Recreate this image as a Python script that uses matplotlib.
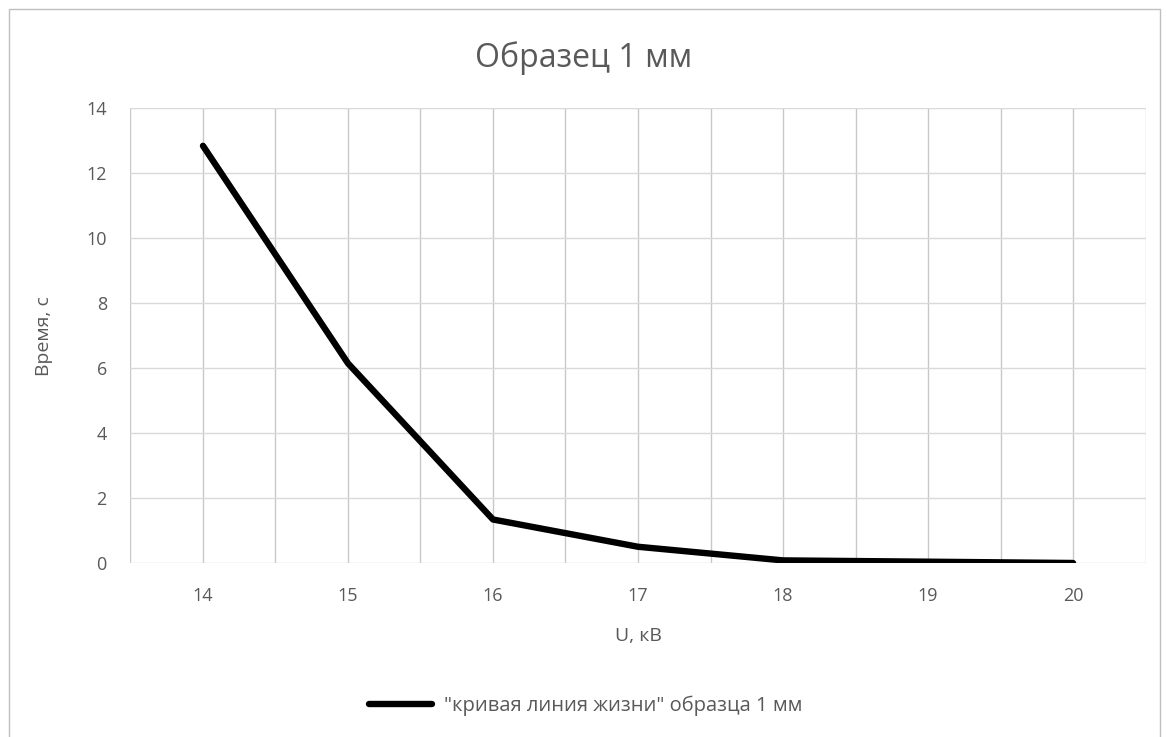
import matplotlib
matplotlib.use("Agg")
import matplotlib.pyplot as plt
from matplotlib.patches import Rectangle

# Data
voltage = ["14", "15", "16", "17", "18", "19", "20"]
time_s = [12.85, 6.15, 1.34, 0.5, 0.08, 0.04, 0.0]
y_ticks = [0, 2, 4, 6, 8, 10, 12, 14]

plt.rcParams['font.family'] = ['Open Sans', 'DejaVu Sans']
text_col = "#595959"

fig = plt.figure(figsize=(11.67, 7.37), dpi=100)
ax = fig.add_axes([0.1118, 0.2361, 0.8698, 0.6167])

x = list(range(len(voltage)))
ax.plot(x, time_s, color="black", linewidth=4.6, solid_capstyle="round",
        solid_joinstyle="round", label='"кривая линия жизни" образца 1 мм')

ax.set_xlim(-0.5, len(voltage) - 0.5)
ax.set_ylim(0, 14)
ax.set_xticks(x)
ax.set_xticklabels(voltage)
ax.set_yticks(y_ticks)

# vertical grid at every half category, like Excel
for gx in [i * 0.5 - 0.5 for i in range(2 * len(voltage) + 1)]:
    ax.axvline(gx, color="#C8C8C8", linewidth=1.0, zorder=0)
for gy in y_ticks:
    ax.axhline(gy, color="#D9D9D9", linewidth=1.0, zorder=0)

for s in ax.spines.values():
    s.set_visible(False)
ax.tick_params(length=0, labelsize=13, colors=text_col, pad=17)
ax.tick_params(axis="y", pad=17)

ax.set_xlabel("U, кВ", fontsize=14, color=text_col, labelpad=16)
ax.set_ylabel("Время, с", fontsize=14, color=text_col, labelpad=24)
fig.text(0.5, 0.921, "Образец 1 мм", ha="center", va="center",
         fontsize=23, color=text_col)

leg = fig.legend(loc="center", bbox_to_anchor=(0.502, 0.042), frameon=False,
                 fontsize=14.5, handlelength=3.1, handletextpad=0.6)
for t in leg.get_texts():
    t.set_color(text_col)

# chart area border
fig.patches.append(Rectangle((9 / 1167, -0.05), 1151 / 1167, 1.05 - 9 / 737,
                             transform=fig.transFigure, fill=False,
                             edgecolor="#BFBFBF", linewidth=1.0))

fig.savefig("out.png", dpi=100)
